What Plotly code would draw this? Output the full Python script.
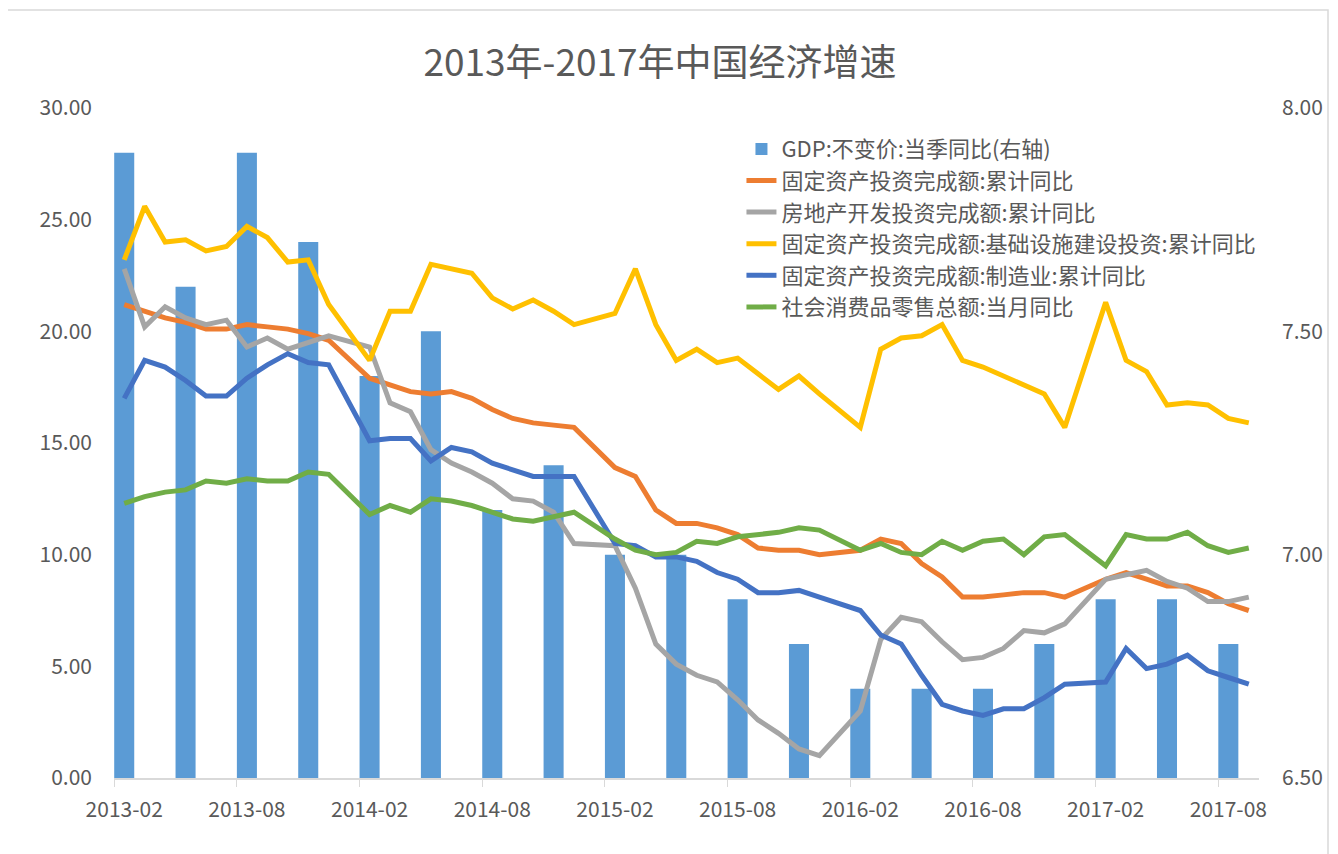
import plotly.graph_objects as go

# ---- categories (monthly, 2013-02 .. 2017-09) ----
months = [f"{y}-{m:02d}" for y in range(2013, 2018) for m in range(1, 13)]
months = months[months.index("2013-02"): months.index("2017-09") + 1]

# ---- GDP (quarterly, right axis) ----
gdp_months = ["2013-02", "2013-05", "2013-08", "2013-11",
              "2014-02", "2014-05", "2014-08", "2014-11",
              "2015-02", "2015-05", "2015-08", "2015-11",
              "2016-02", "2016-05", "2016-08", "2016-11",
              "2017-02", "2017-05", "2017-08"]
gdp = [7.9, 7.6, 7.9, 7.7, 7.4, 7.5, 7.1, 7.2, 7.0, 7.0, 6.9, 6.8,
       6.7, 6.7, 6.7, 6.8, 6.9, 6.9, 6.8]

# ---- monthly series (None = January, not published) ----
fai = [21.2, 20.9, 20.6, 20.4, 20.1, 20.1, 20.3, 20.2, 20.1, 19.9, 19.6, None,
       17.9, 17.6, 17.3, 17.2, 17.3, 17.0, 16.5, 16.1, 15.9, 15.8, 15.7, None,
       13.9, 13.5, 12.0, 11.4, 11.4, 11.2, 10.9, 10.3, 10.2, 10.2, 10.0, None,
       10.2, 10.7, 10.5, 9.6, 9.0, 8.1, 8.1, 8.2, 8.3, 8.3, 8.1, None,
       8.9, 9.2, 8.9, 8.6, 8.6, 8.3, 7.8, 7.5]
realestate = [22.8, 20.2, 21.1, 20.6, 20.3, 20.5, 19.3, 19.7, 19.2, 19.5, 19.8, None,
              19.3, 16.8, 16.4, 14.7, 14.1, 13.7, 13.2, 12.5, 12.4, 11.9, 10.5, None,
              10.4, 8.5, 6.0, 5.1, 4.6, 4.3, 3.5, 2.6, 2.0, 1.3, 1.0, None,
              3.0, 6.2, 7.2, 7.0, 6.1, 5.3, 5.4, 5.8, 6.6, 6.5, 6.9, None,
              8.9, 9.1, 9.3, 8.8, 8.5, 7.9, 7.9, 8.1]
infra = [23.2, 25.6, 24.0, 24.1, 23.6, 23.8, 24.7, 24.2, 23.1, 23.2, 21.2, None,
         18.7, 20.9, 20.9, 23.0, 22.8, 22.6, 21.5, 21.0, 21.4, 20.9, 20.3, None,
         20.8, 22.8, 20.3, 18.7, 19.2, 18.6, 18.8, 18.1, 17.4, 18.0, 17.2, None,
         15.7, 19.2, 19.7, 19.8, 20.3, 18.7, 18.4, 18.0, 17.6, 17.2, 15.7, None,
         21.3, 18.7, 18.2, 16.7, 16.8, 16.7, 16.1, 15.9]
manuf = [17.0, 18.7, 18.4, 17.8, 17.1, 17.1, 17.9, 18.5, 19.0, 18.6, 18.5, None,
         15.1, 15.2, 15.2, 14.2, 14.8, 14.6, 14.1, 13.8, 13.5, 13.5, 13.5, None,
         10.5, 10.4, 9.9, 9.9, 9.7, 9.2, 8.9, 8.3, 8.3, 8.4, 8.1, None,
         7.5, 6.4, 6.0, 4.6, 3.3, 3.0, 2.8, 3.1, 3.1, 3.6, 4.2, None,
         4.3, 5.8, 4.9, 5.1, 5.5, 4.8, 4.5, 4.2]
retail = [12.3, 12.6, 12.8, 12.9, 13.3, 13.2, 13.4, 13.3, 13.3, 13.7, 13.6, None,
          11.8, 12.2, 11.9, 12.5, 12.4, 12.2, 11.9, 11.6, 11.5, 11.7, 11.9, None,
          10.7, 10.2, 10.0, 10.1, 10.6, 10.5, 10.8, 10.9, 11.0, 11.2, 11.1, None,
          10.2, 10.5, 10.1, 10.0, 10.6, 10.2, 10.6, 10.7, 10.0, 10.8, 10.9, None,
          9.5, 10.9, 10.7, 10.7, 11.0, 10.4, 10.1, 10.3]

names = ["GDP:不变价:当季同比(右轴)",
         "固定资产投资完成额:累计同比",
         "房地产开发投资完成额:累计同比",
         "固定资产投资完成额:基础设施建设投资:累计同比",
         "固定资产投资完成额:制造业:累计同比",
         "社会消费品零售总额:当月同比"]
colors = ["#5B9BD5", "#ED7D31", "#A5A5A5", "#FFC000", "#4472C4", "#70AD47"]

FONT = "Noto Sans CJK SC, Noto Sans, sans-serif"
TXT = "#595959"

fig = go.Figure()
fig.add_trace(go.Bar(x=gdp_months, y=gdp, name=names[0], marker_color=colors[0],
                     marker_line_width=0, width=0.98, yaxis="y",
                     legendgroup="g0"))
for i, s in enumerate([fai, realestate, infra, manuf, retail], start=1):
    fig.add_trace(go.Scatter(x=months, y=s, name=names[i], mode="lines",
                             line=dict(color=colors[i], width=5),
                             connectgaps=True, yaxis="y2",
                             legendgroup=f"g{i}"))

# page body has an 8px margin, so the figure is drawn 8px in from the corner
W, H = 1330, 846
L, R, T, B = 106, 1251, 100, 770

fig.update_layout(
    width=W, height=H,
    margin=dict(l=L, r=W - R, t=T, b=H - B, autoexpand=False),
    paper_bgcolor="white", plot_bgcolor="white",
    font=dict(family=FONT, color=TXT, size=21),
    title=dict(text="2013年-2017年中国经济增速", x=652 / W, xanchor="center",
               y=1 - 55 / H, yanchor="middle",
               font=dict(size=37, color=TXT, family=FONT)),
    xaxis=dict(type="category", categoryorder="array", categoryarray=months,
               range=[-0.5, len(months) - 0.5],
               tickmode="linear", tick0=0, dtick=6, tickson="boundaries",
               tickangle=0,
               ticks="outside", ticklen=7, tickcolor="#D9D9D9",
               showline=True, linecolor="#D9D9D9", linewidth=1.5,
               showgrid=False, tickfont=dict(size=21, color=TXT),
               ticklabelstandoff=12, fixedrange=True),
    yaxis=dict(side="right", range=[6.5, 8.0], dtick=0.5, tickformat=".2f",
               showgrid=False, zeroline=False, showline=False,
               tickfont=dict(size=21, color=TXT), ticklabelstandoff=22),
    yaxis2=dict(side="left", overlaying="y", range=[0, 30], dtick=5,
                tickformat=".2f", showgrid=False, zeroline=False,
                showline=False, tickfont=dict(size=21, color=TXT),
                ticklabelstandoff=21),
    legend=dict(x=0.548, xanchor="left", y=0.970, yanchor="top",
                bgcolor="rgba(0,0,0,0)", font=dict(size=22, color=TXT),
                tracegroupgap=0, traceorder="grouped"),
    bargap=0.02,
    showlegend=True,
)

# chart area border (Excel style)
fig.add_shape(type="rect", xref="paper", yref="paper",
              x0=(-1 - L) / (R - L), x1=(1320 - L) / (R - L),
              y0=(B - 870) / (B - T), y1=(B - 2) / (B - T),
              line=dict(color="#D9D9D9", width=1.5), layer="below")

fig.write_html("out.html")
